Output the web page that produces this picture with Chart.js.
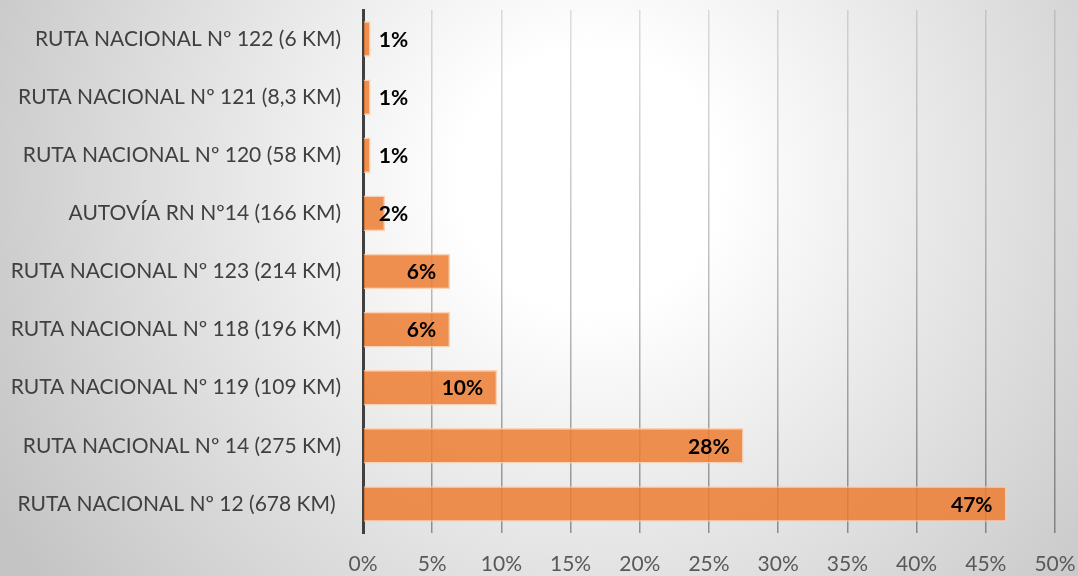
<!DOCTYPE html>
<html>
<head>
<meta charset="utf-8">
<script src="https://cdn.jsdelivr.net/npm/chart.js@4"></script>
<style>
html,body{margin:0;padding:0;}
body{width:1078px;height:576px;overflow:hidden;
background:radial-gradient(circle at 590px 180px,#ffffff 0px,#ffffff 130px,#c4c4c4 680px);}
#wrap{width:1078px;height:576px;position:relative;}
canvas{display:block;}
</style>
</head>
<body>
<div id="wrap"><canvas id="c" width="1078" height="576"></canvas></div>
<script>
const categories = [
  "RUTA NACIONAL Nº 122 (6 KM)",
  "RUTA NACIONAL Nº 121 (8,3 KM)",
  "RUTA NACIONAL Nº 120 (58 KM)",
  "AUTOVÍA RN Nº14 (166 KM)",
  "RUTA NACIONAL Nº 123 (214 KM)",
  "RUTA NACIONAL Nº 118 (196 KM)",
  "RUTA NACIONAL Nº 119 (109 KM)",
  "RUTA NACIONAL Nº 14 (275 KM)",
  "RUTA NACIONAL Nº 12 (678 KM) "
];
const shares = [0.55, 0.55, 0.55, 1.6, 6.3, 6.3, 9.7, 27.5, 46.5];
const tickValues = [0, 5, 10, 15, 20, 25, 30, 35, 40, 45, 50];

const FONT = "Lato, 'Open Sans', sans-serif";

const dataLabels = {
  id: 'dataLabels',
  afterDatasetsDraw(chart) {
    const ctx = chart.ctx;
    const meta = chart.getDatasetMeta(0);
    ctx.save();
    ctx.font = "bold 21px " + FONT;
    ctx.fillStyle = "#000000";
    ctx.textBaseline = "middle";
    ctx.textAlign = "left";
    meta.data.forEach((bar, i) => {
      const txt = Math.round(shares[i]) + "%";
      const w = ctx.measureText(txt).width;
      let x = bar.x - 14 - w;
      const minX = bar.base + 15;
      if (x < minX) x = minX;
      ctx.fillText(txt, x, bar.y + 1);
    });
    ctx.restore();
  }
};

const ctx = document.getElementById('c').getContext('2d');
new Chart(ctx, {
  type: 'bar',
  data: {
    labels: categories,
    datasets: [{
      data: shares,
      backgroundColor: 'rgba(237,125,49,0.85)',
      borderColor: 'rgba(250,205,175,0.9)',
      borderWidth: 1.5,
      barPercentage: 0.9,
      categoryPercentage: 0.68
    }]
  },
  options: {
    indexAxis: 'y',
    responsive: false,
    animation: false,
    devicePixelRatio: 1,
    layout: { padding: { top: 10, right: 23, left: 0, bottom: 0 } },
    plugins: { legend: { display: false }, tooltip: { enabled: false } },
    scales: {
      x: {
        min: 0, max: 50,
        afterBuildTicks(scale) { scale.ticks = tickValues.map(v => ({ value: v })); },
        afterFit(scale) { scale.height = 43; scale.paddingLeft = 0; scale.paddingRight = 0; },
        ticks: {
          callback: v => v + '%',
          color: '#595959',
          font: { family: FONT, size: 21 },
          padding: 19
        },
        grid: {
          drawTicks: false,
          lineWidth: 1.5,
          color: (c) => {
            const ch = c.chart;
            const area = ch.chartArea;
            if (!area) return 'rgba(0,0,0,0.25)';
            const g = ch.ctx.createLinearGradient(0, area.top, 0, area.bottom);
            g.addColorStop(0, 'rgba(0,0,0,0.12)');
            g.addColorStop(1, 'rgba(0,0,0,0.38)');
            return g;
          }
        },
        border: { display: false }
      },
      y: {
        afterFit(scale) { scale.width = 363; scale.paddingTop = 0; scale.paddingBottom = 0; },
        ticks: {
          color: '#404040',
          font: { family: FONT, size: 21 },
          padding: 22
        },
        grid: { display: false, drawTicks: false },
        border: { display: true, color: '#404040', width: 3 }
      }
    }
  },
  plugins: [dataLabels]
});
</script>
</body>
</html>
